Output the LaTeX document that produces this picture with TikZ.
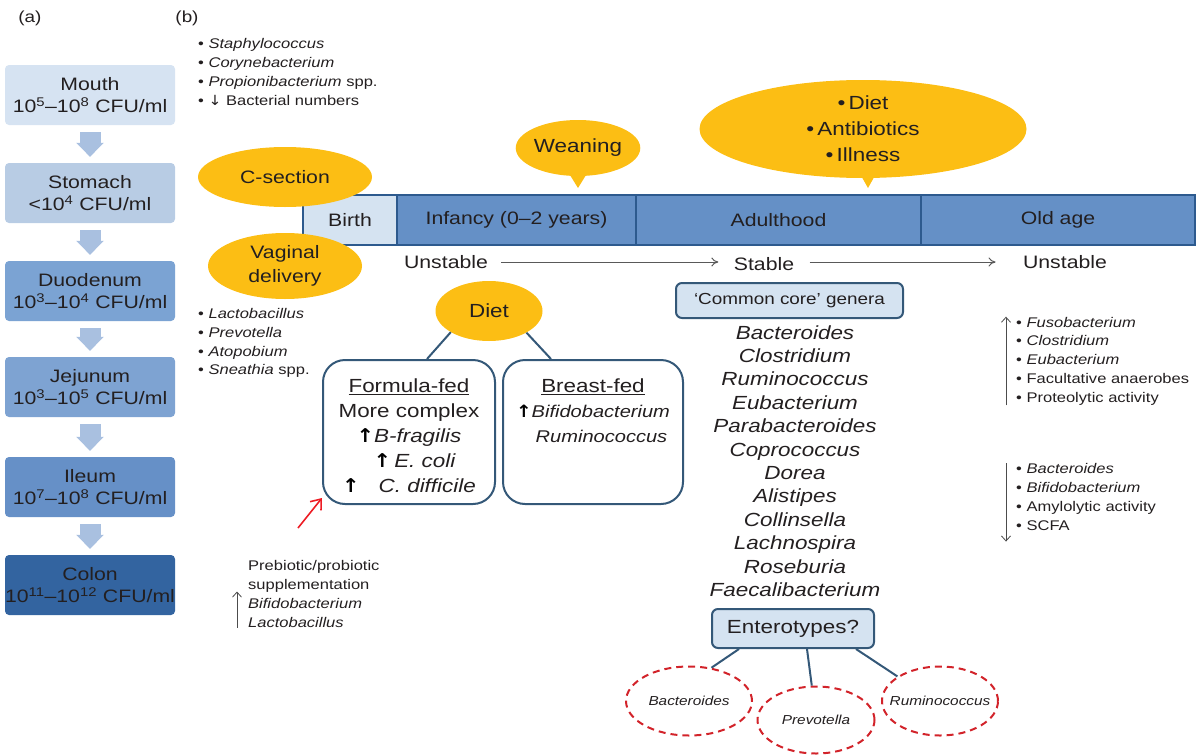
\documentclass[tikz,border=0pt]{standalone}
\usepackage{fontspec}
\setmainfont[FakeStretch=1.18]{Liberation Sans}
\newfontfamily\arrowfont[FakeStretch=1.1]{DejaVu Sans}
\usetikzlibrary{shapes.geometric, arrows.meta, positioning, calc}

\definecolor{txtgray}{RGB}{35,31,32}
\definecolor{gold}{RGB}{252,190,20}
\definecolor{barblue}{RGB}{101,144,198}
\definecolor{paleblue}{RGB}{213,227,241}
\definecolor{edgeblue}{RGB}{45,90,142}
\definecolor{boxedge}{RGB}{52,88,120}
\definecolor{mouthc}{RGB}{214,227,242}
\definecolor{stomachc}{RGB}{184,204,228}
\definecolor{duoc}{RGB}{123,163,211}
\definecolor{jejc}{RGB}{126,163,210}
\definecolor{ileumc}{RGB}{102,144,199}
\definecolor{colonc}{RGB}{51,100,160}
\definecolor{flowc}{RGB}{169,192,224}
\definecolor{dashred}{RGB}{210,35,42}
\definecolor{probred}{RGB}{237,28,36}

\newcommand{\fsz}[2]{\fontsize{#1}{#2}\selectfont}
\newcommand{\uparr}{{\arrowfont\bfseries\color{black}↑}}

\tikzset{
  gutbox/.style={rectangle, rounded corners=4pt, minimum width=170pt, minimum height=60pt, inner sep=0pt, align=center, font=\fsz{18}{22}, text=txtgray},
  flowarrow/.style={line width=21pt, flowc, -{Triangle[length=14pt,width=27pt]}},
  stage/.style={rectangle, draw=edgeblue, line width=2.5pt, fill=barblue, minimum height=50pt, inner sep=0pt, outer sep=0pt, font=\fsz{18}{22}, text=txtgray},
  factor/.style={ellipse, fill=gold, inner sep=0pt, align=center, font=\fsz{18}{24}, text=txtgray},
  smalllist/.style={inner sep=0pt, align=left, font=\fsz{14}{18.8}, text=txtgray},
  feedbox/.style={rectangle, rounded corners=22pt, draw=boxedge, line width=2pt, minimum height=144pt},
  tagbox/.style={rectangle, rounded corners=6pt, draw=boxedge, line width=2pt, fill=paleblue, inner sep=0pt, text=txtgray},
  enterotype/.style={ellipse, draw=dashred, line width=2pt, dash pattern=on 7pt off 5pt, inner xsep=-14pt, inner ysep=0pt, font=\fsz{13}{16}\itshape, text=txtgray},
  link/.style={boxedge, line width=2pt},
  trend/.style={black!65, line width=1pt, -{To[length=7pt,width=9pt]}},
  thinarrow/.style={black!70, line width=0.8pt, -{Straight Barb[length=5pt,width=9pt]}},
}

\begin{document}
\begin{tikzpicture}[x=1pt, y=-1pt]
  \useasboundingbox (0,0) rectangle (1200,755);

  % panel labels
  \node[font=\fsz{16}{20}, text=txtgray] (lbla) at (30,18) {(a)};
  \node[font=\fsz{16}{20}, text=txtgray] (lblb) at (187,18) {(b)};

  % (a) gut regions
  \node[gutbox, fill=mouthc] (mouth) at (90,95) {Mouth\\10\textsuperscript{5}--10\textsuperscript{8} CFU/ml};
  \node[gutbox, fill=stomachc] (stomach) at (90,193) {Stomach\\<10\textsuperscript{4} CFU/ml};
  \node[gutbox, fill=duoc] (duodenum) at (90,291) {Duodenum\\10\textsuperscript{3}--10\textsuperscript{4} CFU/ml};
  \node[gutbox, fill=jejc] (jejunum) at (90,387) {Jejunum\\10\textsuperscript{3}--10\textsuperscript{5} CFU/ml};
  \node[gutbox, fill=ileumc] (ileum) at (90,487) {Ileum\\10\textsuperscript{7}--10\textsuperscript{8} CFU/ml};
  \node[gutbox, fill=colonc] (colon) at (90,585) {Colon\\10\textsuperscript{11}--10\textsuperscript{12} CFU/ml};
  \foreach \a/\b in {mouth/stomach, stomach/duodenum, duodenum/jejunum, jejunum/ileum, ileum/colon}
    \draw[flowarrow] ([yshift=-7pt]\a.south) -- ([yshift=6pt]\b.north);

  % (b) time line
  \node[stage, fill=paleblue, minimum width=94pt] (birth) at (350,220) {Birth};
  \node[stage, minimum width=239pt, anchor=west] (infancy) at (birth.east) {Infancy (0--2 years)};
  \node[stage, minimum width=285pt, anchor=west] (adult) at (infancy.east) {Adulthood};
  \node[stage, minimum width=274pt, anchor=west] (oldage) at (adult.east) {Old age};

  % influencing factors
  \node[factor, minimum width=174pt, minimum height=60pt] (csection) at (285,177) {C-section};
  \node[factor, minimum width=154pt, minimum height=66pt] (vaginal) at (285,266) {Vaginal\\delivery};
  \node[factor, minimum width=120pt, minimum height=56pt, font=\fsz{19}{24}] (weaning) at (578,148) {Weaning};
  \coordinate (weantip) at (578,188);
  \fill[gold] ($(weaning.south)+(-11,-6)$) -- (weantip) -- ($(weaning.south)+(11,-6)$) -- cycle;
  \node[factor, minimum width=327pt, minimum height=98pt, font=\fsz{19}{26}] (adultfactors) at (863,129)
    {\textbullet\,Diet\\\textbullet\,Antibiotics\\\textbullet\,Illness};
  \coordinate (adulttip) at (868,188);
  \fill[gold] ($(adultfactors.south)+(-5,-8)$) -- (adulttip) -- ($(adultfactors.south)+(15,-8)$) -- cycle;

  % stability
  \node[font=\fsz{18}{22}, text=txtgray] (unst1) at (446,262) {Unstable};
  \node[font=\fsz{18}{22}, text=txtgray] (stable) at (764,264) {Stable};
  \node[font=\fsz{18}{22}, text=txtgray] (unst2) at (1065,262) {Unstable};
  \draw[trend] ([xshift=10pt]unst1.east) -- ([xshift=-12pt]stable.west |- unst1.east);
  \draw[trend] ([xshift=12pt]stable.east |- unst1.east) -- ([xshift=-24pt]unst2.west);

  % bacteria lists
  \node[smalllist, anchor=west] (skinlist) at (198,72) {\textbullet\ \textit{Staphylococcus}\\\textbullet\ \textit{Corynebacterium}\\\textbullet\ \textit{Propionibacterium} spp.\\\textbullet\ {\arrowfont ↓} Bacterial numbers};
  \node[smalllist, anchor=west] (vaglist) at (198,343) {\textbullet\ \textit{Lactobacillus}\\\textbullet\ \textit{Prevotella}\\\textbullet\ \textit{Atopobium}\\\textbullet\ \textit{Sneathia} spp.};

  % diet
  \node[factor, minimum width=107pt, minimum height=60pt, font=\fsz{19}{24}] (diet) at (489,311) {Diet};
  \node[feedbox, minimum width=172pt] (formula) at (409,432) {};
  \node[feedbox, minimum width=180pt] (breast) at (593,432) {};
  \draw[link] (diet.209) -- ([xshift=18pt]formula.north);
  \draw[link] (diet.330) -- ([xshift=-42pt]breast.north);
  \node[anchor=north, inner sep=0pt, align=center, font=\fsz{19}{25}, text=txtgray] (formtext) at ([yshift=-20pt]formula.north)
    {\underline{Formula-fed}\\More complex\\\uparr\textit{B-fragilis}\\\hspace*{0.6em}\uparr\,\textit{E. coli}\\\uparr\quad\textit{C. difficile}};
  \node[anchor=north, inner sep=0pt, align=center, font=\fsz{19}{25}, text=txtgray] (breasttext) at ([yshift=-20pt]breast.north)
    {\underline{Breast-fed}\\{\fsz{17}{23}\uparr\textit{Bifidobacterium}}\\{\fsz{17}{23}\hspace*{1em}\textit{Ruminococcus}}};

  % supplementation
  \node[smalllist, anchor=west] (prebio) at (248,594) {Prebiotic/probiotic\\supplementation\\\textit{Bifidobacterium}\\\textit{Lactobacillus}};
  \draw[thinarrow] ([xshift=-11pt]prebio.south west) -- ++(0,-36);
  \coordinate (probstart) at (298,528);
  \draw[probred, line width=1.6pt, -{Straight Barb[length=9pt,width=14pt]}] (probstart) -- ([yshift=7pt]formula.south west);

  % adult core
  \node[tagbox, minimum width=227pt, minimum height=35pt, font=\fsz{16}{18}] (core) at (789.5,300.5) {‘Common core’ genera};
  \node[inner sep=0pt, align=center, font=\fsz{19}{23.4}\itshape, text=txtgray] (genera) at (795,461)
    {Bacteroides\\Clostridium\\Ruminococcus\\Eubacterium\\Parabacteroides\\Coprococcus\\Dorea\\Alistipes\\Collinsella\\Lachnospira\\Roseburia\\Faecalibacterium};
  \node[tagbox, minimum width=162pt, minimum height=39pt, font=\fsz{19}{22}] (entero) at (793,628.5) {Enterotypes?};
  \node[enterotype, minimum width=126pt, minimum height=69pt] (bact) at (689,701) {Bacteroides};
  \node[enterotype, minimum width=117pt, minimum height=67pt] (prev) at (816,720) {Prevotella};
  \node[enterotype, minimum width=116pt, minimum height=69pt] (rumi) at (940,701) {Ruminococcus};
  \draw[link] ([xshift=28pt]entero.south west) -- (bact.56);
  \draw[link] ([xshift=14pt]entero.south) -- (prev.97);
  \draw[link] ([xshift=-19pt]entero.south east) -- (rumi.150);

  % old age
  \node[smalllist, anchor=west] (uplist) at (1016,361) {\textbullet\ \textit{Fusobacterium}\\\textbullet\ \textit{Clostridium}\\\textbullet\ \textit{Eubacterium}\\\textbullet\ Facultative anaerobes\\\textbullet\ Proteolytic activity};
  \node[smalllist, anchor=west] (downlist) at (1016,497) {\textbullet\ \textit{Bacteroides}\\\textbullet\ \textit{Bifidobacterium}\\\textbullet\ Amylolytic activity\\\textbullet\ SCFA};
  \draw[thinarrow] ([xshift=-10pt]uplist.south west) -- ([xshift=-10pt]uplist.north west);
  \draw[thinarrow] ([xshift=-10pt]downlist.north west) -- ([xshift=-10pt,yshift=-11pt]downlist.south west);
\end{tikzpicture}
\end{document}
